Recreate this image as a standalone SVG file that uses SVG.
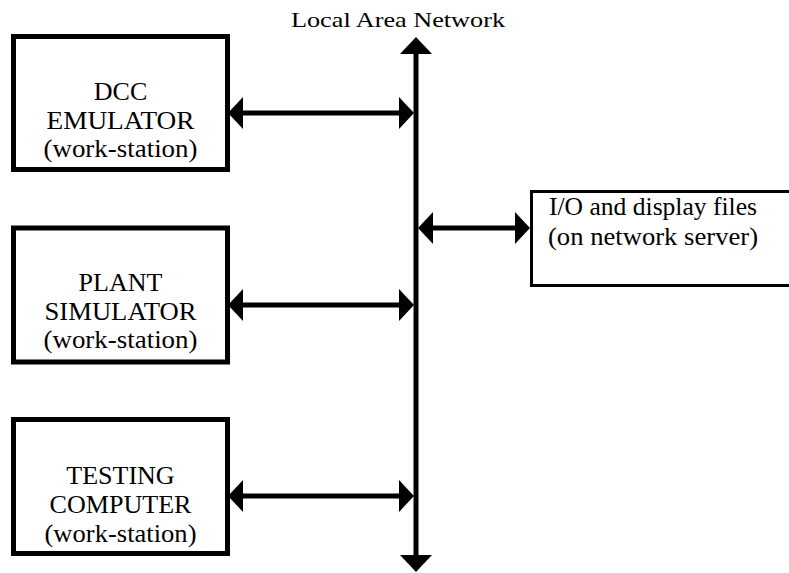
<svg xmlns="http://www.w3.org/2000/svg" width="789" height="573" viewBox="0 0 789 573">
<style>
.box{fill:none;stroke:#000;stroke-width:5}
.box2{fill:none;stroke:#000;stroke-width:3}
.t{font-family:'Liberation Serif',serif;font-size:26px;fill:#000;text-anchor:middle}
.tt{font-family:'Liberation Serif',serif;font-size:21px;fill:#000;text-anchor:middle}
.ln{stroke:#000;stroke-width:5;fill:none}
.hd{fill:#000}
</style>
<rect width="789" height="573" fill="#fff"/>
<text class="tt" x="398" y="27" textLength="214" lengthAdjust="spacingAndGlyphs">Local Area Network</text>
<g id="dcc">
<rect class="box" x="13.5" y="36.5" width="214" height="133"/>
<text class="t" x="120.5" y="100">DCC</text>
<text class="t" x="120.5" y="129" textLength="148" lengthAdjust="spacingAndGlyphs">EMULATOR</text>
<text class="t" x="120.5" y="157" textLength="154" lengthAdjust="spacingAndGlyphs">(work-station)</text>
</g>
<g id="plant">
<rect class="box" x="13.5" y="228" width="214" height="134"/>
<text class="t" x="120.5" y="291">PLANT</text>
<text class="t" x="120.5" y="320" textLength="152" lengthAdjust="spacingAndGlyphs">SIMULATOR</text>
<text class="t" x="120.5" y="348" textLength="154" lengthAdjust="spacingAndGlyphs">(work-station)</text>
</g>
<g id="testing">
<rect class="box" x="13.5" y="419.5" width="214" height="134"/>
<text class="t" x="120.5" y="484">TESTING</text>
<text class="t" x="120.5" y="513" textLength="142" lengthAdjust="spacingAndGlyphs">COMPUTER</text>
<text class="t" x="120.5" y="542" textLength="152" lengthAdjust="spacingAndGlyphs">(work-station)</text>
</g>
<g id="io">
<rect class="box2" x="531.5" y="191.5" width="270" height="94"/>
<text class="t" x="653" y="215" textLength="208" lengthAdjust="spacingAndGlyphs">I/O and display files</text>
<text class="t" x="653" y="245" textLength="210" lengthAdjust="spacingAndGlyphs">(on network server)</text>
</g>
<g id="connectors">
<line class="ln" x1="416" y1="50" x2="416" y2="558"/>
<polygon class="hd" points="416,37 432,54 400,54"/>
<polygon class="hd" points="416,572 432,555 400,555"/>
<line class="ln" x1="240" y1="113" x2="402" y2="113"/>
<polygon class="hd" points="228,113 243,97 243,129"/>
<polygon class="hd" points="414,113 399,97 399,129"/>
<line class="ln" x1="240" y1="305" x2="402" y2="305"/>
<polygon class="hd" points="228,305 243,289 243,321"/>
<polygon class="hd" points="414,305 399,289 399,321"/>
<line class="ln" x1="240" y1="496" x2="402" y2="496"/>
<polygon class="hd" points="228,496 243,480 243,512"/>
<polygon class="hd" points="414,496 399,480 399,512"/>
<line class="ln" x1="428" y1="228" x2="518" y2="228"/>
<polygon class="hd" points="418,228 433,212 433,244"/>
<polygon class="hd" points="530,228 515,212 515,244"/>
</g>
</svg>
